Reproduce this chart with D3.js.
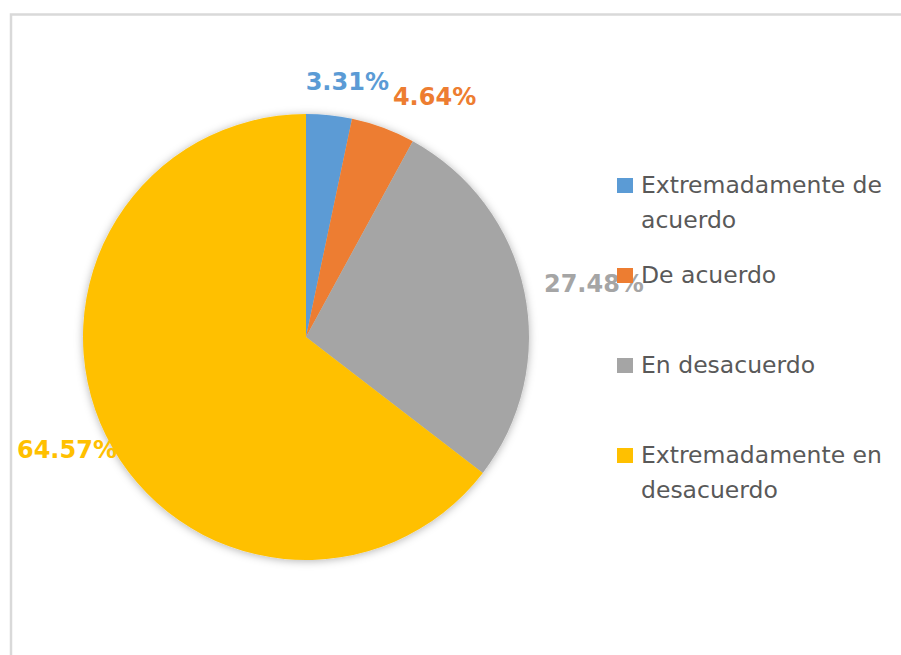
<!DOCTYPE html>
<html>
<head>
<meta charset="utf-8">
<script src="https://cdn.jsdelivr.net/npm/d3@7"></script>
<style>
  body { margin: 0; background: #fff; }
  svg { display: block; }
</style>
</head>
<body>
<div id="chart"></div>
<script>
// data
const categories = ["Extremadamente de acuerdo", "De acuerdo", "En desacuerdo", "Extremadamente en desacuerdo"];
const values = [3.31, 4.64, 27.48, 64.57];
const legendLines = [["Extremadamente de", "acuerdo"], ["De acuerdo"], ["En desacuerdo"], ["Extremadamente en", "desacuerdo"]];
const colors = ["#5b9bd5", "#ed7d31", "#a5a5a5", "#ffc000"];

const W = 901, H = 655;
const cx = 306, cy = 337, R = 223;

const svg = d3.select("#chart").append("svg")
    .attr("width", W)
    .attr("height", H);

// frame (runs off the right and bottom edge)
svg.append("rect")
    .attr("x", 11)
    .attr("y", 14.5)
    .attr("width", 1000)
    .attr("height", 1000)
    .attr("fill", "#fff")
    .attr("stroke", "#d9d9d9")
    .attr("stroke-width", 2.5);

// soft shadow
const defs = svg.append("defs");
defs.append("filter")
    .attr("id", "shadow")
    .attr("x", "-20%").attr("y", "-20%")
    .attr("width", "140%").attr("height", "140%")
    .append("feDropShadow")
    .attr("dx", 0)
    .attr("dy", 1)
    .attr("stdDeviation", 4)
    .attr("flood-color", "#000")
    .attr("flood-opacity", 0.3);

const color = d3.scaleOrdinal().domain(categories).range(colors);

const pie = d3.pie().sort(null).value(d => d.value);
const arcs = pie(categories.map((c, i) => ({ cat: c, value: values[i] })));
const arc = d3.arc().innerRadius(0).outerRadius(R);

const g = svg.append("g").attr("transform", `translate(${cx},${cy})`);

g.append("g")
    .attr("filter", "url(#shadow)")
    .selectAll("path")
    .data(arcs)
    .enter()
    .append("path")
    .attr("d", arc)
    .attr("fill", d => color(d.data.cat));

// data labels, placed outside the slice end
const labels = g.selectAll(".lbl")
    .data(arcs)
    .enter()
    .append("text")
    .attr("class", "lbl")
    .attr("text-anchor", "middle")
    .attr("dominant-baseline", "central")
    .style("font-family", "DejaVu Sans, sans-serif")
    .style("font-weight", "bold")
    .style("font-size", "24px")
    .style("fill", d => color(d.data.cat))
    .text(d => d3.format(".2f")(d.data.value) + "%");

const boxes = [];
labels.each(function(d) {
    const a = (d.startAngle + d.endAngle) / 2;
    const w = this.getComputedTextLength();
    let x = Math.sin(a) * (R + 8 + w / 2) + 13;
    const y = -Math.cos(a) * (R + 33);
    // push right if it overlaps the previous label
    const prev = boxes[boxes.length - 1];
    if (prev && Math.abs(prev.y - y) < 24 && x - w / 2 < prev.x + prev.w / 2 + 4) {
        x = prev.x + prev.w / 2 + 4 + w / 2;
    }
    boxes.push({ x, y, w });
    d3.select(this).attr("x", x).attr("y", y);
});

// legend (drawn after labels so the square sits over the 27.48% label)
const legend = svg.selectAll(".legend")
    .data(categories)
    .enter()
    .append("g")
    .attr("class", "legend")
    .attr("transform", (d, i) => `translate(617, ${193 + i * 90})`);

legend.append("rect")
    .attr("x", 0)
    .attr("y", -15)
    .attr("width", 16)
    .attr("height", 15)
    .style("fill", d => color(d));

legend.append("text")
    .attr("x", 24)
    .attr("y", 0)
    .style("font-family", "DejaVu Sans, sans-serif")
    .style("font-size", "23.5px")
    .style("fill", "#595959")
    .selectAll("tspan")
    .data((d, i) => legendLines[i])
    .enter()
    .append("tspan")
    .attr("x", 24)
    .attr("dy", (d, j) => j === 0 ? 0 : 35)
    .text(d => d);
</script>
</body>
</html>
